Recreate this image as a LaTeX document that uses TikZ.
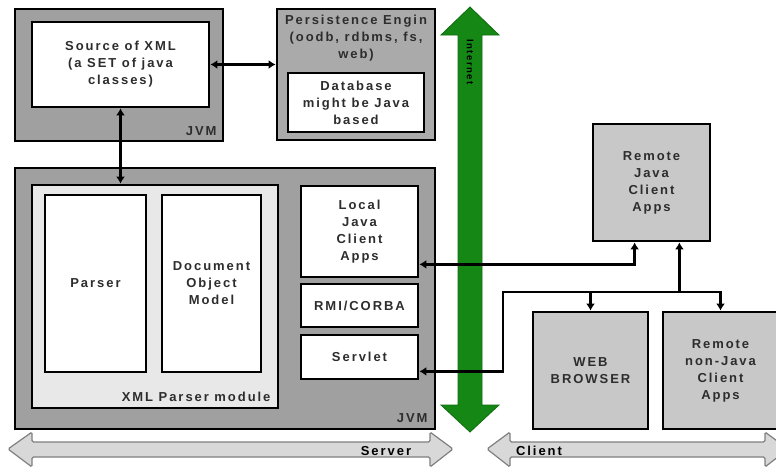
\documentclass[tikz,border=0pt]{standalone}
\usepackage{fontspec}
\usepackage{tikz}
\usetikzlibrary{arrows.meta,positioning,calc}
\newfontfamily\diagfont{Liberation Sans}[LetterSpace=15]
\definecolor{jvmgray}{RGB}{160, 160, 160}
\definecolor{modgray}{RGB}{232, 232, 232}
\definecolor{remgray}{RGB}{200, 200, 200}
\definecolor{arrgray}{RGB}{216, 216, 216}
\definecolor{netgreen}{RGB}{20, 135, 20}
\definecolor{textdark}{RGB}{45, 45, 45}
\tikzset{
    box/.style={draw=black, line width=2.8pt, rectangle, inner sep=0pt},
    jvmbox/.style={box, fill=jvmgray},
    whitebox/.style={box, fill=white},
    modbox/.style={box, fill=modgray},
    rembox/.style={box, fill=remgray},
    lbl/.style={text=textdark, align=center, font=\diagfont\bfseries\fontsize{13}{17}\selectfont},
    conn/.style={line width=2.8pt, >={Latex[length=7pt,width=9pt]}},
    blockarr/.style={draw=gray, fill=arrgray, line width=1.2pt, rounded corners=1.5pt}
}

\begin{document}
\begin{tikzpicture}[x=1pt, y=-1pt]
    \useasboundingbox (0,0) rectangle (776,469);
    \clip (0,0) rectangle (776,469);
    % server side, upper row
    \node[jvmbox, minimum width=208, minimum height=132] (jvmtop) at (119,75) {};
    \node[whitebox, minimum width=177, minimum height=85] (src) at (120.5,64.5) {};
    \node[lbl] at (src) {Source of XML\\(a SET of java\\classes)};
    \node[lbl, anchor=south east] at (220,139) {JVM};
    \node[jvmbox, fill=jvmgray!90!white, minimum width=158, minimum height=131] (pers) at (356,74.5) {};
    \node[lbl, anchor=north] at (356,12) {Persistence Engin\\(oodb, rdbms, fs,\\web)};
    \node[whitebox, minimum width=136, minimum height=59] (db) at (356,102.5) {};
    \node[lbl] at (db) {Database\\might be Java\\based};
    % server side, main JVM
    \node[jvmbox, minimum width=420, minimum height=261] (jvmmain) at (225,298.5) {};
    \node[lbl, anchor=south east] at (431,426) {JVM};
    \node[modbox, minimum width=246, minimum height=223] (xmlmod) at (155,296.5) {};
    \node[lbl, anchor=south east] at (274,405) {XML Parser module};
    \node[whitebox, minimum width=101, minimum height=177] (parser) at (95.5,283.5) {};
    \node[lbl] at (parser) {Parser};
    \node[whitebox, minimum width=99, minimum height=177] (dom) at (211.5,283.5) {};
    \node[lbl] at (dom) {Document\\Object\\Model};
    \node[whitebox, minimum width=117, minimum height=91] (local) at (359.5,231.5) {};
    \node[lbl] at (local) {Local\\Java\\Client\\Apps};
    \node[whitebox, minimum width=117, minimum height=43] (rmi) at (359.5,305.5) {};
    \node[lbl] at (rmi) {RMI/CORBA};
    \node[whitebox, minimum width=117, minimum height=44] (servlet) at (359.5,357) {};
    \node[lbl] at (servlet) {Servlet};
    % client side
    \node[rembox, minimum width=117, minimum height=117] (rjava) at (651.5,182.5) {};
    \node[lbl] at (rjava) {Remote\\Java\\Client\\Apps};
    \node[rembox, minimum width=115, minimum height=117] (web) at (590.5,370.5) {};
    \node[lbl] at (web) {WEB\\BROWSER};
    \node[rembox, minimum width=115, minimum height=117] (rnonjava) at (720.5,370.5) {};
    \node[lbl] at (rnonjava) {Remote\\non-Java\\Client\\Apps};
    % internet
    \draw[netgreen!80!black, fill=netgreen, line width=0.8pt] (470,7) -- (499,35) -- (482,35) -- (482,405) -- (499,405)
        -- (470,432) -- (441,405) -- (458,405) -- (458,35) -- (441,35) -- cycle;
    \node[rotate=-90, font=\diagfont\bfseries\fontsize{9.5}{11}\selectfont, anchor=west] (inet) at (470,36) {Internet};
    % connectors
    \draw[conn, <->] (src.east) -- (src.east -| pers.west);
    \draw[conn, <->] (src.south) -- (src.south |- xmlmod.north);
    \draw[conn, <->] ([yshift=14pt]local.south east) -| ([xshift=43pt]rjava.south west);
    \coordinate (busL) at (503,292);
    \coordinate (rjin) at ([xshift=-32pt]rjava.south east);
    \draw[conn, <->] ([yshift=9pt]servlet.south east) -| (busL) -| (rnonjava.north);
    \draw[conn, ->] (busL -| web.north) -- (web.north);
    \draw[conn, ->] (busL -| rjin) -- (rjin);
    % tiers
    \draw[blockarr] (8,449) -- (32,432) -- (32,442) -- (430,442) -- (430,432) -- (453,449) -- (430,467)
        -- (430,457) -- (32,457) -- (32,467) -- cycle;
    \node[lbl, text=black, anchor=south] (server) at (386,459) {Server};
    \draw[blockarr] (487,449) -- (510,432) -- (510,442) -- (765,442) -- (765,432) -- (788,449) -- (765,467)
        -- (765,457) -- (510,457) -- (510,467) -- cycle;
    \node[lbl, text=black, anchor=south] (client) at (539,459) {Client};
\end{tikzpicture}
\end{document}
